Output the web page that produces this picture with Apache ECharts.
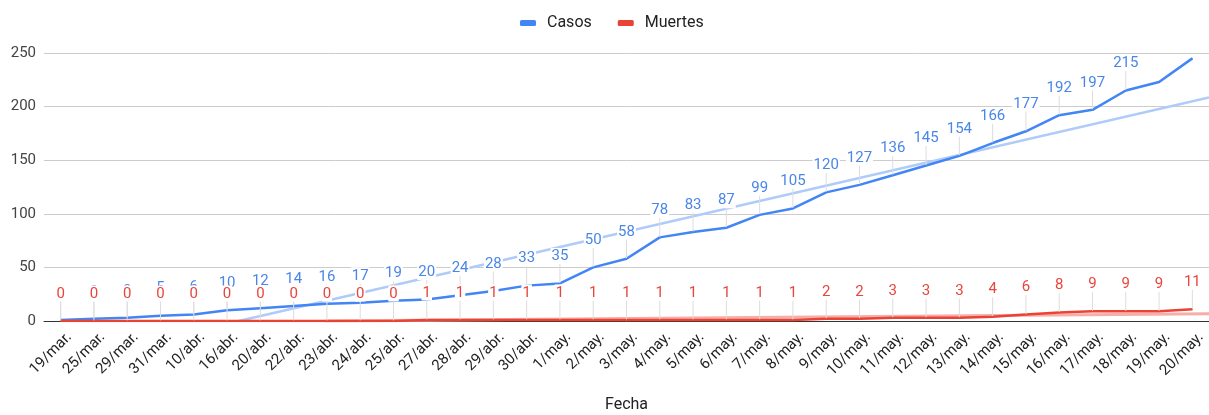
<!DOCTYPE html>
<html>
<head>
<meta charset="utf-8">
<script src="https://cdn.jsdelivr.net/npm/echarts@6/dist/echarts.min.js"></script>
<style>
html,body{margin:0;padding:0;background:#fff;}
#chart{width:1209px;height:415px;}
</style>
</head>
<body>
<div id="chart"></div>
<script>
var categories = ['19/mar.','25/mar.','29/mar.','31/mar.','10/abr.','16/abr.','20/abr.','22/abr.','23/abr.','24/abr.','25/abr.','27/abr.','28/abr.','29/abr.','30/abr.','1/may.','2/may.','3/may.','4/may.','5/may.','6/may.','7/may.','8/may.','9/may.','10/may.','11/may.','12/may.','13/may.','14/may.','15/may.','16/may.','17/may.','18/may.','19/may.','20/may.'];
var casos = [1,2,3,5,6,10,12,14,16,17,19,20,24,28,33,35,50,58,78,83,87,99,105,120,127,136,145,154,166,177,192,197,215,223,245];
var muertes = [0,0,0,0,0,0,0,0,0,0,0,1,1,1,1,1,1,1,1,1,1,1,1,2,2,3,3,3,4,6,8,9,9,9,11];
// labels hidden in the reference for these category indices (Casos)
var casosHiddenLabels = [33,34];
// trendline endpoints: [category position, value]
var casosTrend = [[5.35,0],[34.5,208.5]];
var muertesTrend = [[7.95,0],[34.5,6.8]];
var yTicks = {min:0, max:250, interval:50};

var BLUE = '#4285f4', RED = '#ea4335';
var FONT = 'Roboto, Arial, sans-serif';

function labelData(vals, hidden) {
  return vals.map(function(v,i){
    if (hidden && hidden.indexOf(i) >= 0) return {value:v, label:{show:false}, labelLine:{show:false}};
    return v;
  });
}

var chart = echarts.init(document.getElementById('chart'), null, {renderer:'canvas'});
chart.setOption({
  animation:false,
  textStyle:{fontFamily:FONT},
  legend:{
    top:10, left:515, itemGap:26, itemWidth:16, itemHeight:6, icon:'roundRect',
    data:['Casos','Muertes'],
    textStyle:{fontSize:16, color:'#222', fontFamily:FONT, padding:[0,0,0,6]}
  },
  grid:{left:44, right:0, top:53, bottom:94, containLabel:false, outerBoundsMode:'none'},
  xAxis:[{
    type:'category', data:categories, boundaryGap:true,
    axisLine:{show:true, lineStyle:{color:'#333', width:1}},
    axisTick:{show:false},
    axisLabel:{rotate:45, fontSize:15, color:'#222', margin:5, interval:0, fontFamily:FONT,
      verticalAlign:'top', padding:[5,0,0,0]},
    splitLine:{show:false},
    name:'Fecha', nameLocation:'middle', nameGap:76,
    nameTextStyle:{fontSize:16, color:'#222', fontFamily:FONT}
  },{
    type:'value', min:-0.5, max:34.5, show:false
  }],
  yAxis:{
    type:'value', min:yTicks.min, max:yTicks.max, interval:yTicks.interval,
    axisLine:{show:false}, axisTick:{show:false},
    axisLabel:{fontSize:15, color:'#444', margin:8, fontFamily:FONT},
    splitLine:{lineStyle:{color:'#cccccc', width:1}}
  },
  series:[
    {
      name:'Casos tendencia', type:'line', xAxisIndex:1, data:casosTrend,
      showSymbol:false, symbol:'none', silent:true, z:1,
      lineStyle:{color:'#aecbfa', width:2.5}
    },
    {
      name:'Muertes tendencia', type:'line', xAxisIndex:1, data:muertesTrend,
      showSymbol:false, symbol:'none', silent:true, z:1,
      lineStyle:{color:'#f6aea9', width:3}
    },
    {
      name:'Casos', type:'line', data:labelData(casos, casosHiddenLabels), z:3,
      color:BLUE, symbol:'circle', symbolSize:1, showSymbol:true,
      lineStyle:{color:BLUE, width:2.5},
      itemStyle:{color:BLUE},
      label:{show:true, position:'top', distance:4, fontSize:15, color:'#4a86e8',
        backgroundColor:'#fff', padding:[1,1,0,1], fontFamily:FONT},
      labelLayout:{dy:-15},
      labelLine:{show:true, lineStyle:{color:'#dddddd', width:1}}
    },
    {
      name:'Muertes', type:'line', data:muertes, z:4,
      color:RED, symbol:'circle', symbolSize:1, showSymbol:true,
      lineStyle:{color:RED, width:2.5},
      itemStyle:{color:RED},
      label:{show:true, position:'top', distance:4, fontSize:15, color:'#e8453c',
        backgroundColor:'#fff', padding:[1,1,0,1], fontFamily:FONT},
      labelLayout:{dy:-15},
      labelLine:{show:true, lineStyle:{color:'#dddddd', width:1}}
    }
  ]
});
</script>
</body>
</html>
